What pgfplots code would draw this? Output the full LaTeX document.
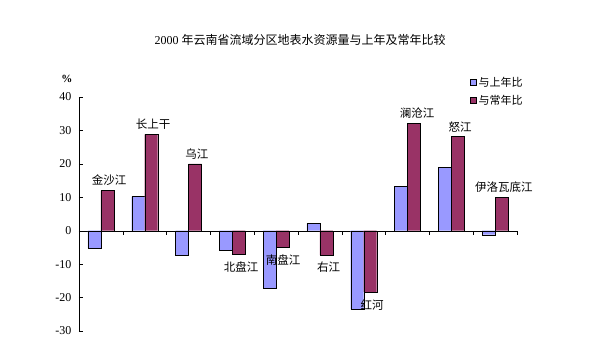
\documentclass[border=0pt]{standalone}
\usepackage{pgfplots}
\pgfplotsset{compat=1.18}
\usepackage{fontspec}
\setmainfont{Liberation Serif}
\newfontfamily\cjk{Noto Sans CJK SC}
\definecolor{cA}{RGB}{153,153,255}
\definecolor{cB}{RGB}{153,51,102}
\begin{document}
\begin{tikzpicture}
\path[use as bounding box] (-79pt,-30pt) rectangle (521pt,331pt);
\begin{axis}[
 at={(0pt,0pt)}, anchor=south west,
 scale only axis, width=438pt, height=234pt,
 xmin=-0.5, xmax=9.5, ymin=-30, ymax=40,
 axis x line=middle, axis y line=left,
 x axis line style={-}, y axis line style={-},
 hide obscured x ticks=false, hide obscured y ticks=false,
 xtick={-0.5,0.5,...,9.5}, xticklabels={},
 ytick={-30,-20,...,40},
 tick align=inside, major tick length=4pt,
 tick style={black, thin},
 ybar=0pt, bar width=13pt,
 /pgf/number format/assume math mode=true,
 yticklabel style={font=\fontsize{12}{13}\selectfont, xshift=-4pt},
 legend style={at={(0.893,1.094)}, anchor=north west, draw=none, fill=none,
   font=\cjk\fontsize{11}{12}\selectfont, row sep=3pt, inner sep=0pt},
 legend cell align=left,
 clip=false,
]
\addplot[fill=cA, draw=black, thin, legend image code/.code={\draw[fill=cA,draw=black,thin] (0pt,-3pt) rectangle (6pt,3pt);}]
 coordinates {(0,-5.2)(1,10.2)(2,-7.3)(3,-5.8)(4,-17.2)(5,2.2)(6,-23.5)(7,13.2)(8,18.9)(9,-1.2)};
\addplot[fill=cB, draw=black, thin, legend image code/.code={\draw[fill=cB,draw=black,thin] (0pt,-3pt) rectangle (6pt,3pt);}]
 coordinates {(0,12)(1,28.8)(2,20)(3,-7)(4,-5)(5,-7.3)(6,-18.3)(7,32.1)(8,28.2)(9,9.9)};
\legend{与上年比,与常年比}
\begin{scope}[every node/.style={font=\cjk\fontsize{11.5}{13}\selectfont, inner sep=0pt}]
\node at (axis cs:0.19,15) {金沙江};
\node at (axis cs:1.19,32) {长上干};
\node at (axis cs:2.19,23) {乌江};
\node at (axis cs:3.2,-10.8) {北盘江};
\node at (axis cs:4.16,-8.7) {南盘江};
\node at (axis cs:5.2,-11) {右江};
\node at (axis cs:6.19,-22.2) {红河};
\node at (axis cs:7.22,35.3) {澜沧江};
\node at (axis cs:8.2,31.1) {怒江};
\node at (axis cs:9.2,12.9) {伊洛瓦底江};
\end{scope}
\end{axis}
\node[font=\fontsize{12}{14}\selectfont] at (221pt,291pt) {2000 {\cjk 年云南省流域分区地表水资源量与上年及常年比较}};
\node[font=\fontsize{11}{12}\selectfont\bfseries] at (-12pt,252pt) {\%};
\end{tikzpicture}
\end{document}
